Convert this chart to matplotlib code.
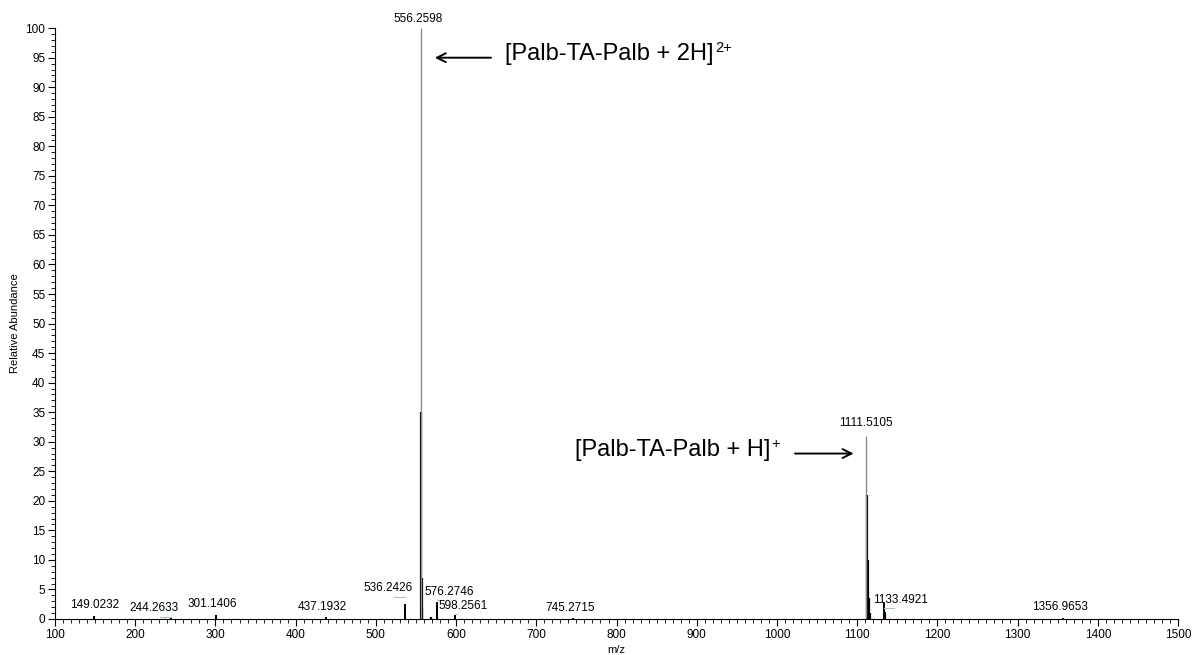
import numpy as np
import matplotlib
matplotlib.use("Agg")
import matplotlib.pyplot as plt
from matplotlib.ticker import MultipleLocator

plt.rcParams['font.family'] = ['Liberation Sans', 'DejaVu Sans']

# labelled peaks (m/z, relative abundance)
peak_mz = [149.0232, 244.2633, 301.1406, 437.1932, 536.2426, 556.2598,
           576.2746, 598.2561, 745.2715, 1111.5105, 1133.4921, 1356.9653]
peak_int = [0.5, 0.3, 0.6, 0.3, 2.6, 100.0, 2.8, 0.6, 0.2, 31.0, 2.7, 0.2]

# unlabelled isotope / side peaks
iso_mz = [556.76, 557.26, 557.76, 1112.51, 1113.51, 1114.51, 1134.49, 568.3, 1115.5]
iso_int = [35.0, 7.0, 2.0, 21.0, 10.0, 3.5, 1.2, 0.4, 1.0]

# label centres (m/z, height) as placed by the instrument software
label_x = [149, 223, 296, 433, 515, 553, 591, 609, 742, 1111, 1154, 1353]
label_y = [1.3, 0.8, 1.5, 1.0, 4.2, 100.6, 3.6, 1.2, 0.8, 32.2, 2.2, 1.0]

ann_2h = ('[Palb-TA-Palb + 2H]', '2+')
ann_1h = ('[Palb-TA-Palb + H]', '+')

fig = plt.figure(figsize=(11.96, 6.55), dpi=100)
ax = fig.add_axes([0.046, 0.055, 0.939, 0.902])

ax.vlines(iso_mz, 0, iso_int, color='black', lw=1.6)
for mz, it in zip(peak_mz, peak_int):
    col = '#8c8c8c' if it > 20 else 'black'
    ax.vlines(mz, 0, it, color=col, lw=1.0 if it > 20 else 1.4)

for mz, lx, ly in zip(peak_mz, label_x, label_y):
    ax.text(lx, ly, f'{mz:.4f}', ha='center', va='bottom', fontsize=8.5,
            clip_on=False)
    if abs(lx - mz) > 8:
        # faint leader line from label to its peak
        ax.plot([lx + 8 if lx < mz else lx - 8, mz], [ly - 0.4, ly - 0.4],
                color='#9fd3a0', lw=0.8)

ax.annotate('', xy=(570, 95.0), xytext=(647, 95.0),
            arrowprops=dict(arrowstyle='->', color='black', lw=1.4,
                            mutation_scale=16))
t1 = ax.text(661, 95.6, ann_2h[0], fontsize=17, va='center', ha='left')
ax.annotate(ann_2h[1], xy=(1, 1), xycoords=t1, xytext=(1, 1.5),
            textcoords='offset points', va='top', ha='left', fontsize=10.5)

ax.annotate('', xy=(1099, 28.0), xytext=(1019, 28.0),
            arrowprops=dict(arrowstyle='->', color='black', lw=1.4,
                            mutation_scale=16))
t2 = ax.text(748, 28.6, ann_1h[0], fontsize=17, va='center', ha='left')
ax.annotate(ann_1h[1], xy=(1, 1), xycoords=t2, xytext=(1, 1.5),
            textcoords='offset points', va='top', ha='left', fontsize=10.5)

ax.set_xlim(100, 1500)
ax.set_ylim(0, 100)
ax.xaxis.set_major_locator(MultipleLocator(100))
ax.xaxis.set_minor_locator(MultipleLocator(10))
ax.yaxis.set_major_locator(MultipleLocator(5))
ax.yaxis.set_minor_locator(MultipleLocator(1))
ax.tick_params(which='major', length=5, width=0.8, labelsize=8.5, pad=2)
ax.tick_params(which='minor', length=3, width=0.6)
for s in ['top', 'right']:
    ax.spines[s].set_visible(False)
ax.set_xlabel('m/z', fontsize=8, labelpad=3)
ax.set_ylabel('Relative Abundance', fontsize=8, labelpad=4)

fig.savefig('out.png', dpi=100)
